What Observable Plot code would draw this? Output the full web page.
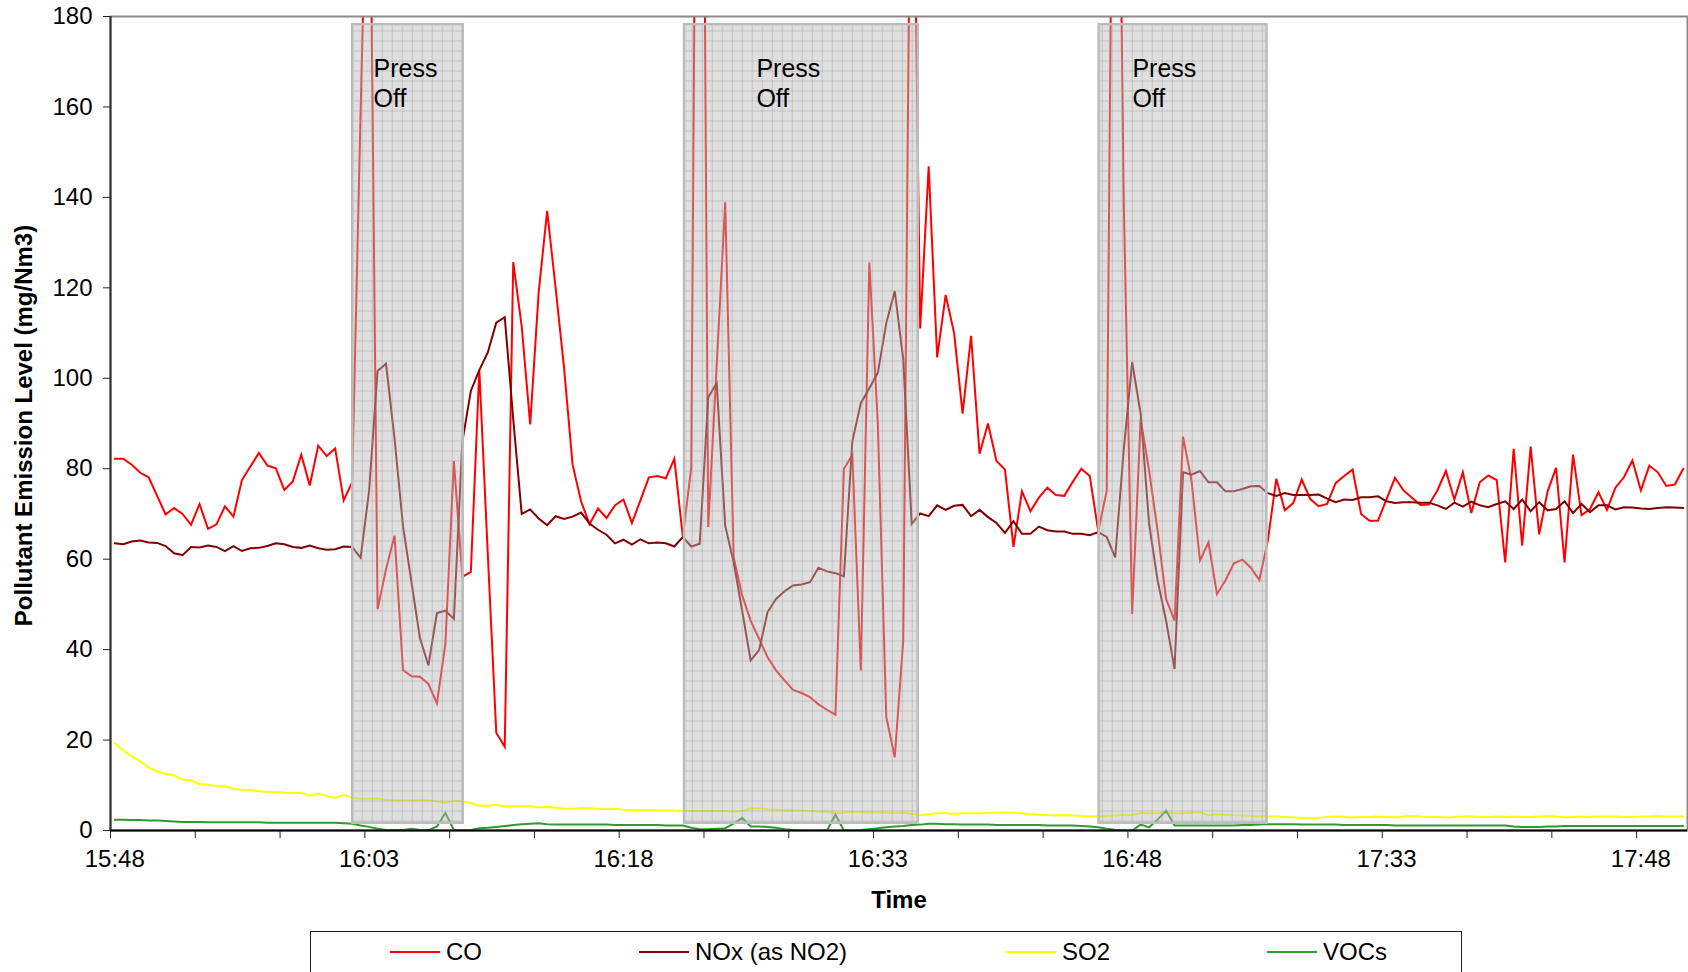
<!DOCTYPE html>
<html>
<head>
<meta charset="utf-8">
<script src="https://cdn.jsdelivr.net/npm/d3@7"></script>
<script src="https://cdn.jsdelivr.net/npm/@observablehq/plot@0.6"></script>
<style>
html, body { margin: 0; padding: 0; overflow: hidden; background: #fff; width: 1688px; height: 972px; }
body { position: relative; font-family: 'Liberation Sans', Arial, sans-serif; }
#legend { position: absolute; left: 310px; top: 931px; width: 1152px; height: 80px; border: 1.5px solid #222; box-sizing: border-box; }
.sw { position: absolute; top: 19px; width: 50px; height: 2px; }
.lt { position: absolute; top: 8px; font-size: 24px; line-height: 24px; color: #000; white-space: nowrap; }
</style>
</head>
<body>
<div id="chart"></div>
<div id="legend"></div>
<script>
// ---- data (one value every 30 s; category index i) ----
const timeLabels = ["15:48", "16:03", "16:18", "16:33", "16:48", "17:33", "17:48"];
const timeLabelIndex = [0, 30, 60, 90, 120, 150, 180];
const yTicks = [0, 20, 40, 60, 80, 100, 120, 140, 160, 180];

const seriesNames = ["CO", "NOx (as NO2)", "SO2", "VOCs"];
const seriesColors = ["#ff0000", "#800000", "#ffff00", "#2e9b2e"];

const CO = [
  82.2,82.2,80.9,79.1,78.1,74,69.9,71.3,70.0,67.6,72.2,66.7,67.7,71.7,69.4,77.5,80.5,83.5,80.7,80.1,75.3,77.2,83.1,76.3,85.1,82.8,84.5,73,77,
  159,236,48.9,57.8,65.2,35.5,34.1,34.0,32.4,28.1,41.3,81.7,56.1,57.2,101.8,61.1,21.6,18.5,125.7,111.5,89.8,119,137,120,102.2,80.9,72.8,67.7,71.2,
  69.1,71.9,73.2,68.0,73.0,78.1,78.4,77.9,82.2,65.0,80.3,360,67.1,103,138.9,60.4,52,46.4,42.4,38.3,35.4,33.2,31.1,30.4,29.5,27.9,26.7,25.6,80,83,35.4,125.6,90,25.1,16.2,42,251,111,
  146.9,104.6,118.4,110.0,92.2,109.4,83.3,90.0,81.7,79.8,62.7,75.0,70.6,73.6,75.8,74.2,74.0,77.1,80.0,78.4,66.2,
  75.1,300,140,47.9,91,79.6,66.3,51.2,46.4,87.1,77.4,59.7,63.7,52.3,55.3,59.1,59.9,58.1,55.4,64.1,77.8,70.8,72.4,77.6,73.3,71.7,72.2,76.8,78.4,79.8,70,
  68.5,68.5,73.3,78.0,75.2,73.6,72.0,72.1,75.2,79.5,73.2,79.2,70.2,77.0,78.5,77.5,59.3,84.4,63.0,84.9,65.5,75.0,80.2,59.3,83.1,69.7,71.1,74.8,70.9,75.8,78.1,81.8,75.2,80.7,79.2,76.2,76.5,80.0
];
const NOx = [
  63.5,63.3,63.9,64.1,63.7,63.6,62.9,61.3,60.9,62.7,62.6,63.0,62.7,61.8,62.9,61.8,62.4,62.5,62.9,63.5,63.3,62.7,62.5,63.0,62.4,62.1,62.2,62.8,62.7,
  60.3,75.1,101.6,103.2,86.7,67.3,54.9,42.5,36.5,48.1,48.6,46.8,86,97.2,101.8,105.7,112.3,113.5,91,70.0,71.0,69.0,67.5,69.5,68.9,69.4,70.3,67.9,66.5,
  65.4,63.5,64.3,63.2,64.4,63.5,63.7,63.5,62.8,64.9,62.8,63.4,95.8,98.9,67.4,59.3,48.6,37.6,39.9,48.3,51.2,52.9,54.2,54.4,54.9,58.1,57.3,56.9,56.2,86.1,94.5,97.8,101.2,112.2,119.3,104.2,
  67.8,70.1,69.5,71.9,70.9,71.8,72.0,69.5,70.9,69.3,68.0,65.8,68.4,65.6,65.6,67.2,66.4,66.1,66.1,65.6,65.6,65.3,
  66.0,64.9,60.4,84,103.6,92.2,67.8,55.3,46.4,35.7,79.2,78.7,79.5,77.0,77.0,75.0,75.0,75.5,76.1,76.2,74.6,74.0,74.6,74.2,74.2,74.2,74.3,73.4,72.6,73.2,73.1,73.7,
  73.7,73.9,72.8,72.4,72.6,72.6,72.5,72.5,71.9,71.1,72.5,71.6,72.7,71.9,71.5,72.2,72.8,71.1,73.2,70.6,72.6,70.8,71.1,72.8,70.2,72.2,70.4,71.9,71.9,71.0,71.5,71.4,71.2,71.1,71.3,71.5,71.4,71.3
];
const SO2 = [
  19.3,17.7,16.4,15.3,13.9,13.1,12.5,12.2,11.2,11.1,10.3,10.1,9.8,9.8,9.2,9.0,8.9,8.7,8.5,8.5,8.4,8.3,8.3,7.7,8.2,7.6,7.2,7.9,7.3,
  7.0,7.0,7.1,6.8,6.7,6.7,6.7,6.7,6.7,6.4,6.1,6.5,6.5,6.1,5.5,5.5,5.7,5.3,5.4,5.4,5.4,5.1,5.2,5.1,4.8,4.8,5.0,4.9,4.8,
  4.7,4.8,4.6,4.5,4.5,4.5,4.4,4.4,4.4,4.3,4.3,4.3,4.3,4.3,4.3,4.2,4.3,4.9,4.9,4.7,4.6,4.5,4.5,4.4,4.3,4.2,4.2,3.8,3.9,4.1,4.1,4.0,4.0,3.9,3.8,3.9,3.7,3.4,
  3.6,3.8,3.8,3.7,3.8,3.8,3.8,3.9,3.9,4.0,3.9,3.8,3.6,3.5,3.4,3.3,3.4,3.3,3.2,3.1,
  3.1,3.2,3.3,3.5,3.4,3.9,3.8,3.8,3.9,3.8,3.8,3.9,4.0,3.4,3.6,3.5,3.4,3.3,3.2,3.1,3.1,
  3.1,3.0,2.9,2.8,2.7,2.8,3.0,3.1,3.0,2.9,3.0,3.0,3.1,3.0,2.9,3.1,3.2,3.1,3.0,3.0,
  2.9,3.0,3.1,3.1,3.0,3.0,3.1,3.0,3.1,3.0,3.0,3.1,3.2,3.1,2.9,3.0,3.1,3.0,3.1,3.1,
  3.1,3.0,3.0,3.1,3.1,3.2,3.1,3.1,3.1
];
const VOCs = [
  2.4,2.4,2.3,2.3,2.2,2.2,2.1,2.0,1.9,1.9,1.9,1.8,1.8,1.8,1.8,1.8,1.8,1.8,1.7,1.7,1.7,1.7,1.7,1.7,1.7,1.7,1.7,1.6,1.5,
  1.1,0.8,0.4,0.1,0.1,0.1,0.4,0.1,0.1,0.9,3.9,0.1,0.1,0.1,0.5,0.6,0.8,1.0,1.2,1.4,1.5,1.6,1.4,1.3,1.3,1.3,1.3,1.3,1.3,
  1.3,1.2,1.2,1.2,1.2,1.2,1.2,1.1,1.1,1.1,0.6,0.3,0.3,0.4,0.5,1.5,2.8,0.9,0.9,0.8,0.6,0.3,0.1,0,0,0,0,3.5,0,0,0.1,0.3,0.5,0.7,0.9,1.0,1.2,1.3,
  1.5,1.5,1.4,1.4,1.3,1.3,1.3,1.3,1.2,1.2,1.2,1.2,1.2,1.2,1.1,1.1,1.1,1.1,1.0,0.9,0.7,
  0.4,0.15,0,0,1.3,0.7,2.4,4.4,1.1,1.1,1.1,1.1,1.1,1.1,1.1,1.1,1.2,1.2,1.3,1.4,
  1.4,1.4,1.4,1.3,1.3,1.3,1.3,1.3,1.2,1.2,1.2,1.2,1.2,1.2,1.1,1.1,1.1,1.1,1.1,1.1,
  1.1,1.1,1.1,1.1,1.1,1.1,1.1,1.1,0.9,0.8,0.8,0.8,0.9,0.9,1.0,1.0,1.0,1.0,1.0,1.0,
  1.0,1.0,1.0,1.0,1.0,1.0,1.0,1.0,1.0
];

// Press-off periods, in category units (start/end boundaries)
const pressStart = [28.57, 67.7, 116.6];
const pressEnd = [41.6, 95.27, 136.4];
const pressLabelAt = [31.03, 76.18, 120.53];
const pressLabel = "Press\nOff";

const yTitle = "Pollutant Emission Level (mg/Nm3)";
const xTitle = "Time";

// ---- build tables ----
const nCat = CO.length;
const allSeries = [CO, NOx, SO2, VOCs];
const rows = allSeries.map((arr, s) => arr.map((v, i) => ({ x: i + 0.5, v, s: seriesNames[s] })));
const labelMap = new Map(timeLabelIndex.map((k, j) => [k + 0.5, timeLabels[j]]));
const pressIdx = pressStart.map((_, i) => i);

const W = 1688, H = 930;
const chart = Plot.plot({
  width: W,
  height: H,
  marginLeft: 110,
  marginRight: 1,
  marginTop: 16,
  marginBottom: H - 830,
  style: { fontFamily: "'Liberation Sans', Arial, sans-serif", fontSize: "24px", background: "white", color: "black", overflow: "visible" },
  x: { domain: [0, nCat], label: null },
  y: { domain: [0, 180], label: null },
  marks: [
    ...rows.map((r, s) => Plot.line(r, { x: "x", y: "v", stroke: seriesColors[s], strokeWidth: 2, clip: true, strokeLinejoin: "miter", strokeMiterlimit: 4 })),
    Plot.rect(pressIdx, {
      x1: i => pressStart[i], x2: i => pressEnd[i], y1: 1.6, y2: 178.2,
      fill: "url(#pressGrid)", stroke: "#bcbcbc", strokeWidth: 2.5
    }),
    Plot.text(pressIdx, {
      x: i => pressLabelAt[i], y: 171.3, text: () => pressLabel,
      textAnchor: "start", lineAnchor: "top", lineHeight: 1.2, fontSize: 25, fill: "black"
    }),
    Plot.frame({ stroke: "#8a8a8a", strokeWidth: 2 }),
    Plot.ruleX([0], { stroke: "#333", strokeWidth: 2 }),
    Plot.ruleY([0], { stroke: "#000", strokeWidth: 2 }),
    Plot.axisY({ ticks: yTicks, tickSize: 7, tickPadding: 11, stroke: "#222", label: null }),
    Plot.axisX({ ticks: d3.range(0, 181, 10), tickSize: 8, tickFormat: () => "", stroke: "#222", label: null }),
    Plot.axisX({ ticks: timeLabelIndex.map(k => k + 0.5), tickSize: 0, tickPadding: 19, tickFormat: d => labelMap.get(d), label: null }),
    Plot.text([yTitle], { frameAnchor: "left", textAnchor: "middle", rotate: -90, dx: -86, dy: 2, text: d => d, fontWeight: "bold", fontSize: 24 }),
    Plot.text([xTitle], { frameAnchor: "bottom", dy: 77, text: d => d, fontWeight: "bold", fontSize: 24 })
  ]
});

// pattern used by the press-off rectangles
const defs = d3.create("svg:defs");
const pat = defs.append("pattern").attr("id", "pressGrid").attr("patternUnits", "userSpaceOnUse")
  .attr("width", 10).attr("height", 10).attr("x", 1.7).attr("y", 0.5);
pat.append("rect").attr("width", 10).attr("height", 10).attr("fill", "rgba(184,184,184,0.45)");
pat.append("path").attr("d", "M0,0.5H10M0.5,0V10").attr("stroke", "rgba(150,150,150,0.38)").attr("stroke-width", 1).attr("fill", "none");
chart.insertBefore(defs.node(), chart.firstChild);

document.getElementById("chart").appendChild(chart);

// legend (HTML, below the SVG)
const legendLeft = [79, 328, 695, 956];
const legend = d3.select("#legend");
seriesNames.forEach((name, s) => {
  legend.append("div").attr("class", "sw").style("left", legendLeft[s] + "px").style("background", seriesColors[s]);
  legend.append("div").attr("class", "lt").style("left", (legendLeft[s] + 56) + "px").text(name);
});
</script>
</body>
</html>
